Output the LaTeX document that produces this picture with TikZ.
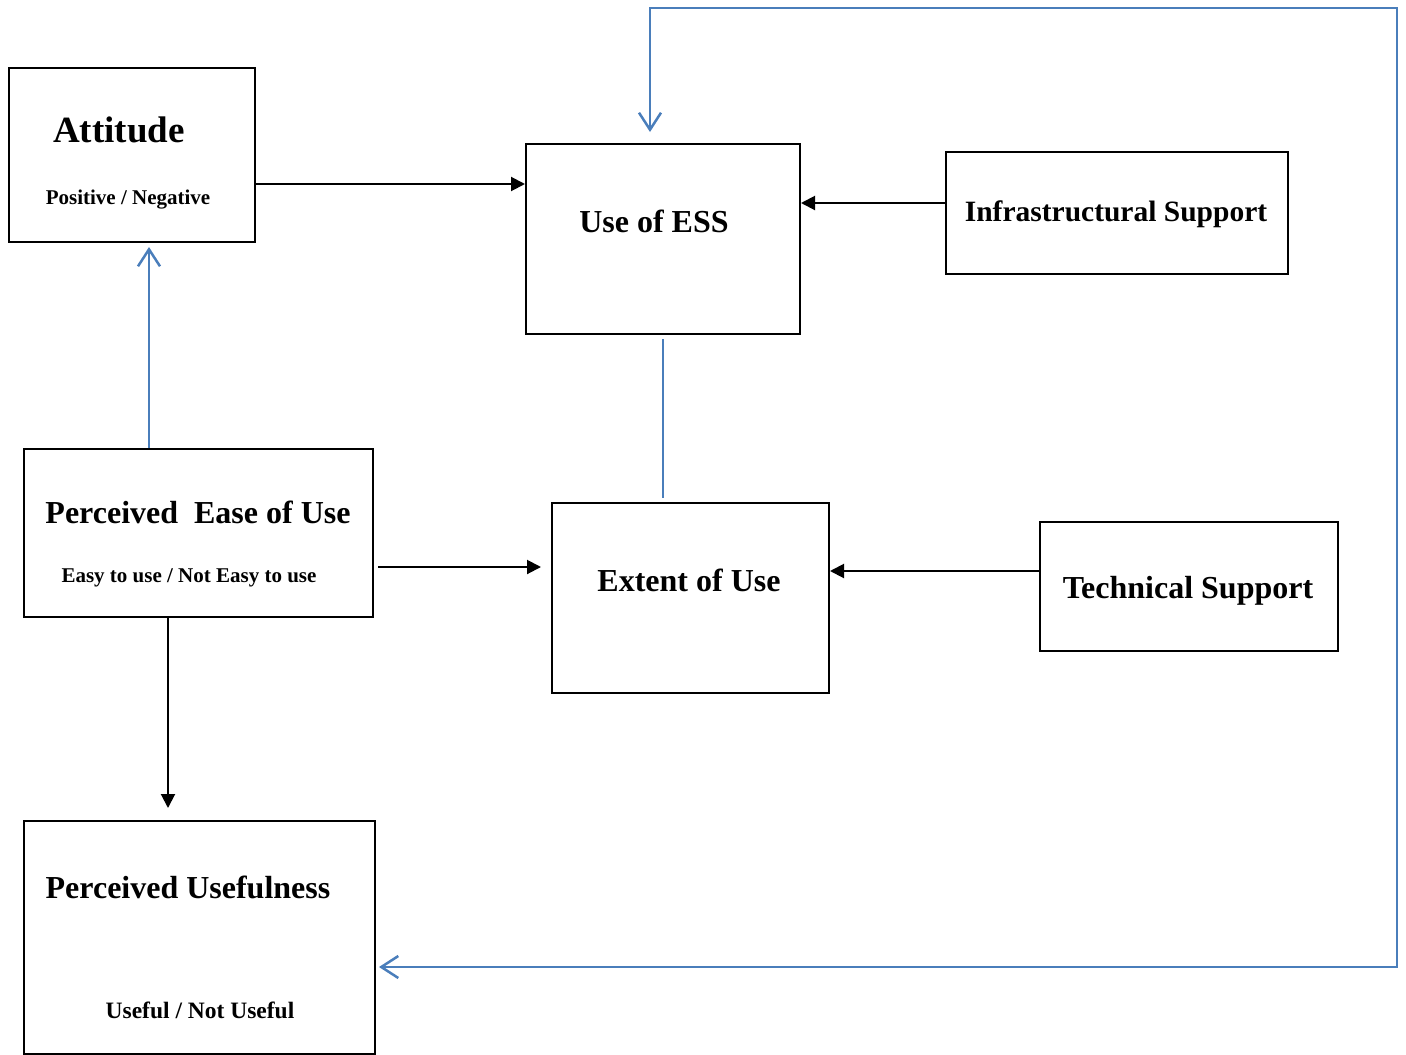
\documentclass[tikz,border=0pt]{standalone}
\usepackage{fontspec}
\setmainfont{Liberation Serif}
\usetikzlibrary{arrows.meta}
\definecolor{lnblue}{RGB}{74,126,187}
\begin{document}
\begin{tikzpicture}[x=1pt,y=-1pt,
  box/.style={draw=black,line width=2pt,rectangle,anchor=north west,inner sep=0pt},
  lbl/.style={anchor=base,inner sep=0pt,font=\bfseries\fontsize{#1}{#1}\selectfont},
  blk/.style={draw=black,line width=2pt,-{Triangle[length=14pt,width=14pt]}},
  blu/.style={draw=lnblue,line width=2pt},
  barb/.style={-{Straight Barb[length=17pt,width=22pt,line width=2.5pt]}}
]
\useasboundingbox[fill=white] (0,0) rectangle (1406,1055);

% boxes
\node[box,minimum width=246pt,minimum height=174pt] (att) at (8,67) {};
\node[box,minimum width=274pt,minimum height=190pt] (use) at (525,143) {};
\node[box,minimum width=342pt,minimum height=122pt] (inf) at (945,151) {};
\node[box,minimum width=349pt,minimum height=168pt] (peou) at (23,448) {};
\node[box,minimum width=277pt,minimum height=190pt] (ext) at (551,502) {};
\node[box,minimum width=298pt,minimum height=129pt] (tech) at (1039,521) {};
\node[box,minimum width=351pt,minimum height=233pt] (pu) at (23,820) {};

% texts
\node[lbl=37] (attT) at (119,142) {Attitude};
\node[lbl=21] (attS) at (128,204) {Positive / Negative};
\node[lbl=32] (useT) at (654,232) {Use of ESS};
\node[lbl=29.5] (infT) at (1116,221) {Infrastructural Support};
\node[lbl=32] (peouT) at (198,523) {Perceived\ \ Ease of Use};
\node[lbl=21] (peouS) at (189,582) {Easy to use / Not Easy to use};
\node[lbl=32] (extT) at (689,591) {Extent of Use};
\node[lbl=32] (techT) at (1188,598) {Technical Support};
\node[lbl=32] (puT) at (188,898) {Perceived Usefulness};
\node[lbl=23.5] (puS) at (200,1018) {Useful / Not Useful};

% helper coordinates
\coordinate (xa) at (149,0);
\coordinate (xp) at (168,0);
\coordinate (xu) at (650,0);
\coordinate (fbBR) at (1397,967);
\coordinate (fbTR) at (1397,8);
\coordinate (fbTL) at (650,8);

% black connectors
\draw[blk] (att.east |- 0,184) -- (use.west |- 0,184);
\draw[blk] (inf.west |- 0,203) -- (use.east |- 0,203);
\draw[blk,shorten <=4pt,shorten >=10pt] (peou.east |- 0,567) -- (ext.west |- 0,567);
\draw[blk] (tech.west |- 0,571) -- (ext.east |- 0,571);
\draw[blk,shorten >=12pt] (xp |- peou.south) -- (xp |- pu.north);

% blue connectors
\draw[blu,barb,shorten >=4pt] (xa |- peou.north) -- (xa |- att.south);
\draw[blu,line width=1.5pt,shorten <=4pt,shorten >=4pt] (use.south) -- (use.south |- ext.north);
\draw[blu,{Straight Barb[length=17pt,width=22pt,line width=2.5pt]}-{Straight Barb[length=17pt,width=22pt,line width=2.5pt]},shorten <=3pt,shorten >=11pt]
  (pu.east |- fbBR) -- (fbBR) -- (fbTR) -- (fbTL) -- (xu |- use.north);
\end{tikzpicture}
\end{document}
